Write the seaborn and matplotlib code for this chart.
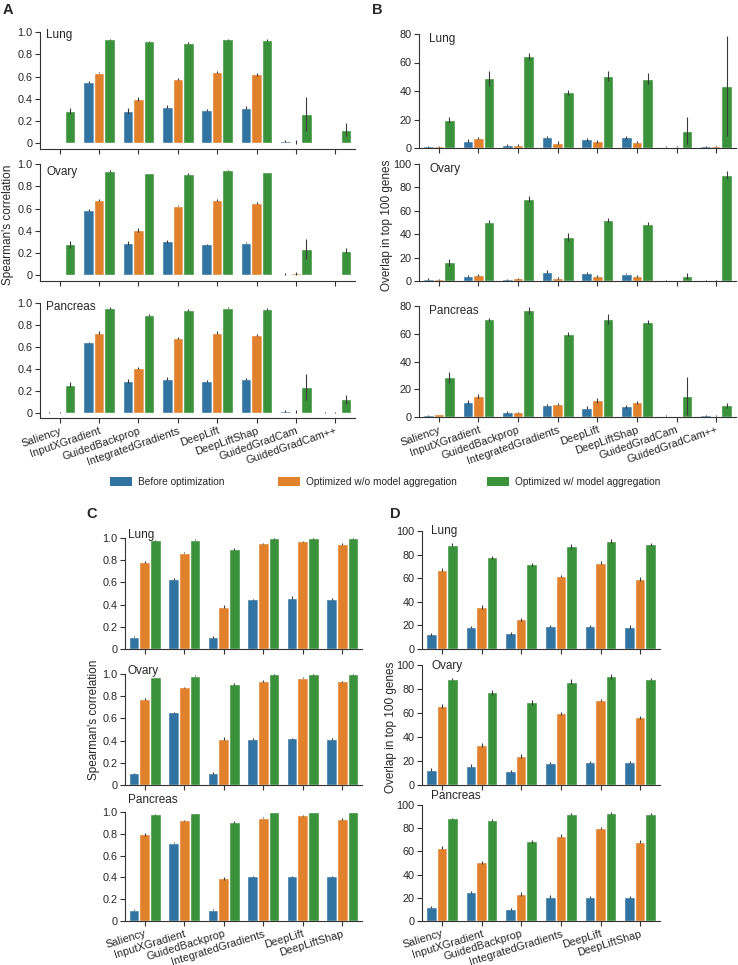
import pandas as pd
import seaborn as sns
import matplotlib.pyplot as plt
from matplotlib.patches import Patch

# methods shown on the x axis
methods_ab = ["Saliency", "InputXGradient", "GuidedBackprop", "IntegratedGradients",
              "DeepLift", "DeepLiftShap", "GuidedGradCam", "GuidedGradCam++"]
methods_cd = methods_ab[:6]
series = ["Before optimization", "Optimized w/o model aggregation",
          "Optimized w/ model aggregation"]
tissues = ["Lung", "Ovary", "Pancreas"]

# panel A - Spearman's correlation (rows: before, w/o agg, w/ agg)
a_lung = [[0.005, 0.55, 0.29, 0.331, 0.30, 0.32, 0.02, 0.003],
          [0.005, 0.636, 0.397, 0.579, 0.642, 0.621, 0.012, 0.003],
          [0.29, 0.934, 0.916, 0.904, 0.934, 0.925, 0.266, 0.125]]
a_lung_err = [[0.002, 0.012, 0.03, 0.01, 0.01, 0.012, 0.01, 0.002],
              [0.002, 0.008, 0.02, 0.008, 0.012, 0.015, 0.015, 0.002],
              [0.025, 0.006, 0.006, 0.01, 0.005, 0.008, 0.15, 0.06]]
a_ovary = [[0.003, 0.587, 0.293, 0.305, 0.278, 0.293, 0.012, 0.002],
           [0.003, 0.677, 0.407, 0.626, 0.677, 0.653, 0.018, 0.002],
           [0.278, 0.94, 0.919, 0.91, 0.943, 0.928, 0.233, 0.222]]
a_ovary_err = [[0.003, 0.005, 0.02, 0.01, 0.008, 0.006, 0.008, 0.002],
               [0.003, 0.008, 0.02, 0.006, 0.008, 0.008, 0.015, 0.002],
               [0.03, 0.008, 0.004, 0.006, 0.005, 0.004, 0.09, 0.02]]
a_panc = [[0.002, 0.641, 0.286, 0.31, 0.289, 0.307, 0.012, 0.001],
          [0.002, 0.73, 0.41, 0.681, 0.73, 0.708, 0.009, 0.001],
          [0.255, 0.954, 0.894, 0.936, 0.957, 0.945, 0.234, 0.119]]
a_panc_err = [[0.002, 0.004, 0.02, 0.01, 0.008, 0.008, 0.008, 0.002],
              [0.002, 0.01, 0.01, 0.008, 0.012, 0.008, 0.01, 0.002],
              [0.02, 0.006, 0.01, 0.008, 0.005, 0.008, 0.12, 0.045]]

# panel B - overlap in top 100 genes
b_lung = [[1.2, 5.2, 2.1, 7.7, 6.1, 7.5, 0.9, 1.2],
          [1.2, 6.8, 1.9, 3.8, 4.7, 4.2, 0.9, 1.2],
          [19.5, 48.8, 64.5, 39.0, 50.2, 48.6, 12.2, 43.4]]
b_lung_err = [[0.3, 0.8, 0.5, 0.6, 1.2, 1.0, 0.3, 0.3],
              [0.3, 0.8, 0.6, 1.0, 1.0, 1.0, 0.3, 0.3],
              [2.0, 5.5, 2.5, 2.0, 3.5, 4.0, 9.5, 35.0]]
b_ovary = [[1.7, 4.3, 1.4, 8.0, 6.6, 6.3, 0.6, 0.6],
           [1.4, 5.1, 2.3, 2.6, 4.0, 4.0, 0.9, 0.6],
           [16.2, 50.7, 70.1, 37.6, 52.1, 49.0, 4.6, 90.9]]
b_ovary_err = [[0.6, 1.0, 0.4, 1.2, 0.8, 0.6, 0.3, 0.2],
               [0.4, 0.8, 0.6, 0.8, 0.8, 0.8, 0.3, 0.2],
               [3.0, 1.2, 2.5, 3.0, 1.5, 1.5, 2.5, 3.5]]
b_panc = [[1.4, 10.8, 3.6, 8.6, 6.7, 7.7, 1.0, 1.2],
          [2.2, 15.3, 3.4, 9.3, 12.0, 10.5, 0.7, 1.0],
          [28.7, 70.4, 76.9, 60.1, 70.7, 68.3, 15.1, 8.4]]
b_panc_err = [[0.4, 1.5, 0.5, 1.0, 1.2, 1.0, 0.3, 0.3],
              [0.3, 1.5, 0.5, 1.0, 1.8, 1.3, 0.3, 0.3],
              [4.0, 1.0, 2.5, 1.5, 3.5, 1.5, 14.0, 2.0]]

# panel C - Spearman's correlation
c_lung = [[0.111, 0.63, 0.108, 0.446, 0.461, 0.449],
          [0.783, 0.867, 0.38, 0.952, 0.97, 0.946],
          [0.979, 0.985, 0.90, 0.997, 0.997, 0.997]]
c_lung_err = [[0.005, 0.008, 0.006, 0.005, 0.015, 0.008],
              [0.01, 0.005, 0.015, 0.006, 0.005, 0.006],
              [0.003, 0.003, 0.006, 0.002, 0.002, 0.002]]
c_ovary = [[0.106, 0.656, 0.109, 0.414, 0.42, 0.414],
           [0.776, 0.879, 0.417, 0.937, 0.967, 0.934],
           [0.973, 0.985, 0.909, 0.997, 0.997, 0.997]]
c_ovary_err = [[0.005, 0.005, 0.008, 0.005, 0.006, 0.006],
               [0.012, 0.008, 0.015, 0.006, 0.004, 0.004],
               [0.004, 0.003, 0.008, 0.002, 0.002, 0.002]]
c_panc = [[0.103, 0.718, 0.103, 0.409, 0.409, 0.409],
          [0.794, 0.924, 0.391, 0.948, 0.97, 0.936],
          [0.979, 0.991, 0.909, 1.0, 0.999, 0.999]]
c_panc_err = [[0.004, 0.004, 0.005, 0.006, 0.008, 0.008],
              [0.01, 0.006, 0.015, 0.006, 0.004, 0.006],
              [0.003, 0.002, 0.006, 0.002, 0.002, 0.002]]

# panel D - overlap in top 100 genes
d_lung = [[12.4, 18.6, 13.2, 19.4, 19.7, 18.6],
          [67.3, 35.5, 25.1, 62.0, 73.2, 59.2],
          [88.5, 77.7, 71.8, 87.0, 91.5, 88.7]]
d_lung_err = [[1.2, 1.2, 1.2, 0.8, 1.0, 1.5],
              [1.0, 1.5, 1.5, 1.0, 1.5, 1.5],
              [1.0, 1.5, 1.5, 2.0, 1.5, 1.2]]
d_ovary = [[12.8, 16.1, 11.7, 18.3, 19.2, 19.2],
           [65.6, 33.3, 24.2, 59.7, 70.8, 56.4],
           [88.1, 77.2, 68.9, 86.1, 90.6, 88.3]]
d_ovary_err = [[1.0, 1.0, 1.2, 1.0, 1.0, 1.2],
               [1.5, 1.8, 2.0, 1.5, 1.0, 1.5],
               [0.8, 1.8, 2.0, 2.0, 2.0, 1.2]]
d_panc = [[12.1, 25.1, 10.5, 20.9, 20.6, 20.6],
          [63.3, 50.6, 23.4, 73.7, 79.9, 68.4],
          [88.4, 87.0, 68.6, 92.4, 92.9, 92.1]]
d_panc_err = [[1.2, 1.0, 1.0, 1.2, 1.2, 1.2],
              [1.5, 1.5, 2.0, 1.0, 1.0, 1.5],
              [0.8, 1.2, 1.5, 0.8, 0.8, 0.8]]

sns.set_style("ticks")
plt.rcParams["font.family"] = ["Liberation Sans", "DejaVu Sans"]
plt.rcParams["axes.edgecolor"] = "#333333"
plt.rcParams["axes.linewidth"] = 0.8

W, H = 738, 965
fig = plt.figure(figsize=(W / 100, H / 100), dpi=100)


def add_ax(x0, x1, top, bottom):
    # pixel box (top-left origin) -> figure fraction
    return fig.add_axes([x0 / W, 1 - bottom / H, (x1 - x0) / W, (bottom - top) / H])


def draw(ax, methods, vals, errs, ylim, yticks, yticklabels, name, name_xy, show_x, rot=19):
    df = pd.DataFrame({
        "method": methods * 3,
        "series": [s for s in series for _ in methods],
        "value": [v for row in vals for v in row],
    })
    sns.barplot(data=df, x="method", y="value", hue="series", hue_order=series,
                order=methods, palette="tab10", errorbar=None, legend=False, ax=ax)
    for cont, err in zip(ax.containers, errs):
        xs = [p.get_x() + p.get_width() / 2 for p in cont]
        ys = [p.get_height() for p in cont]
        ax.errorbar(xs, ys, yerr=err, fmt="none", ecolor="#3a3a3a",
                    elinewidth=0.8, capsize=0)
    ax.set_xlim(-0.5, len(methods) - 0.5)
    ax.set_ylim(*ylim)
    ax.set_yticks(yticks)
    ax.set_yticklabels(yticklabels)
    ax.set_xlabel("")
    ax.set_ylabel("")
    ax.tick_params(labelsize=7.8, length=3.5, width=0.8, color="#333333", pad=2)
    if show_x:
        ax.set_xticklabels(methods, rotation=rot, ha="right", rotation_mode="anchor")
    else:
        ax.set_xticklabels([])
    sns.despine(ax=ax)
    ax.spines["left"].set_bounds(ylim[0], yticks[-1])
    ax.text(name_xy[0], name_xy[1], name, transform=ax.transAxes,
            fontsize=8.5, va="center", ha="left")


corr_ticks = [0, 0.2, 0.4, 0.6, 0.8, 1.0]
corr_labels = ["0", "0.2", "0.4", "0.6", "0.8", "1.0"]

# panel A
boxes_a = [(32, 149), (164, 281), (303, 418)]
data_a = [(a_lung, a_lung_err), (a_ovary, a_ovary_err), (a_panc, a_panc_err)]
name_a = [0.974, 0.93, 0.965]
for i in range(3):
    ax = add_ax(40, 355, *boxes_a[i])
    draw(ax, methods_ab, data_a[i][0], data_a[i][1], (-0.05, 1.0), corr_ticks,
         corr_labels, tissues[i], (0.02, name_a[i]), i == 2)

# panel B
boxes_b = [(34, 148), (164, 281), (306, 417)]
data_b = [(b_lung, b_lung_err), (b_ovary, b_ovary_err), (b_panc, b_panc_err)]
lims_b = [80, 100, 80]
name_b = [0.956, 0.957, 0.955]
for i in range(3):
    ax = add_ax(419, 736, *boxes_b[i])
    ticks = list(range(0, lims_b[i] + 1, 20))
    draw(ax, methods_ab, data_b[i][0], data_b[i][1], (0, lims_b[i]), ticks,
         [str(t) for t in ticks], tissues[i], (0.032, name_b[i]), i == 2)

# panel C
boxes_c = [(538, 649), (674, 785), (812, 921)]
data_c = [(c_lung, c_lung_err), (c_ovary, c_ovary_err), (c_panc, c_panc_err)]
name_c = [1.025, 1.03, 1.11]
for i in range(3):
    ax = add_ax(125, 362, *boxes_c[i])
    draw(ax, methods_cd, data_c[i][0], data_c[i][1], (0, 1.0), corr_ticks,
         corr_labels, tissues[i], (0.012, name_c[i]), i == 2, rot=17)

# panel D
boxes_d = [(531, 649), (665, 785), (805, 921)]
data_d = [(d_lung, d_lung_err), (d_ovary, d_ovary_err), (d_panc, d_panc_err)]
name_d = [1.0, 0.99, 1.08]
pct_ticks = [0, 20, 40, 60, 80, 100]
for i in range(3):
    ax = add_ax(422, 660, *boxes_d[i])
    draw(ax, methods_cd, data_d[i][0], data_d[i][1], (0, 100), pct_ticks,
         [str(t) for t in pct_ticks], tissues[i], (0.038, name_d[i]), i == 2, rot=17)

# axis labels and panel letters
fig.text(8 / W, 1 - 225 / H, "Spearman's correlation", rotation=90,
         ha="center", va="center", fontsize=8.5)
fig.text(387 / W, 1 - 225 / H, "Overlap in top 100 genes", rotation=90,
         ha="center", va="center", fontsize=8.5)
fig.text(94 / W, 1 - 720 / H, "Spearman's correlation", rotation=90,
         ha="center", va="center", fontsize=8.5)
fig.text(391 / W, 1 - 727 / H, "Overlap in top 100 genes", rotation=90,
         ha="center", va="center", fontsize=8.5)
for letter, x, y in [("A", 3, 10), ("B", 372, 10), ("C", 86, 514), ("D", 390, 514)]:
    fig.text(x / W, 1 - y / H, letter, fontsize=10.5, fontweight="bold",
             ha="left", va="center")

# legend: one entry per column, placed where the reference has them
colors = sns.color_palette("tab10", desat=0.75)[:3]
legend_x = [110, 278, 487]
for c, label, x in zip(colors, series, legend_x):
    fig.legend([Patch(facecolor=c, edgecolor="none")], [label], loc="center left",
               bbox_to_anchor=(x / W, 1 - 482 / H), frameon=False, fontsize=7.3,
               handlelength=2.2, handleheight=0.9, handletextpad=0.6,
               borderpad=0, borderaxespad=0)

fig.savefig("out.png", dpi=100)
